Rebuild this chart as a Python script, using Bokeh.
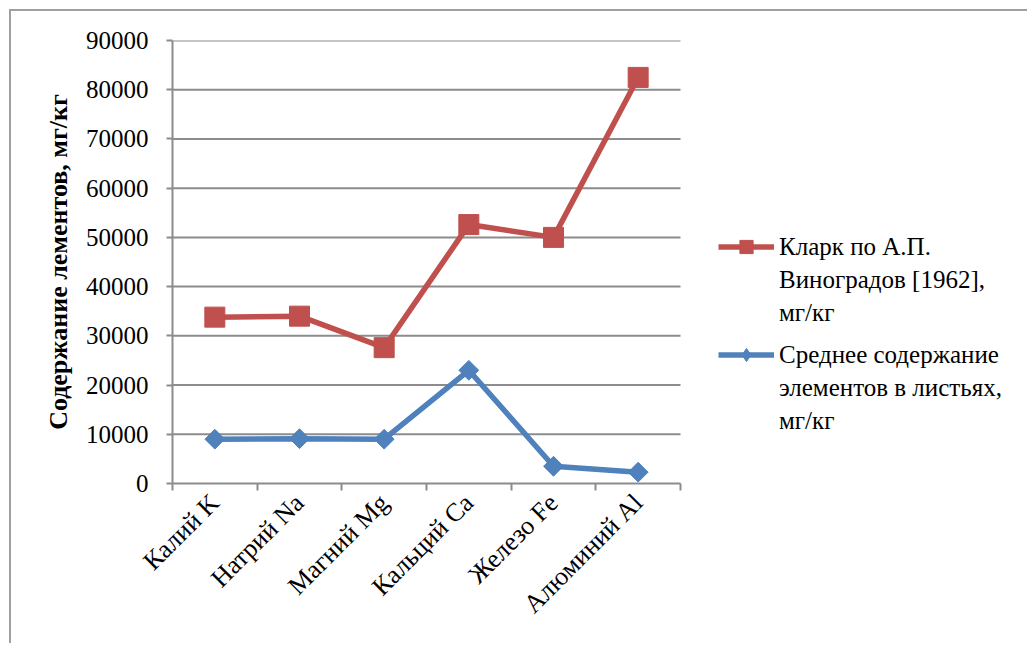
import math
from bokeh.plotting import figure
from bokeh.models import FixedTicker, Range1d, Legend, LegendItem, ColumnDataSource
from bokeh.embed import file_html
from bokeh.resources import INLINE

categories = ["Калий K", "Натрий Na", "Магний Mg", "Кальций Ca", "Железо Fe", "Алюминий Al"]
clarke = [33800, 34000, 27600, 52600, 50000, 82500]
leaves = [9000, 9100, 9000, 23000, 3500, 2300]
y_ticks = [0, 10000, 20000, 30000, 40000, 50000, 60000, 70000, 80000, 90000]
clarke_lines = ["Кларк по А.П.", "Виноградов [1962],", "мг/кг"]
leaves_lines = ["Среднее содержание", "элементов в листьях,", "мг/кг"]
y_title = "Содержание лементов, мг/кг"

RED = "#C0504D"
BLUE = "#4F81BD"
GRID = "#8c8c8c"
FONT = "Liberation Serif"

PLOT_W = 508          # pixel width of the category area
FRAME_W = 855         # frame includes room for the legend on the right
n = len(categories)
xs = [i + 0.5 for i in range(n)]
src = ColumnDataSource(dict(x=xs, clarke=clarke, leaves=leaves))

p = figure(frame_width=FRAME_W, frame_height=443, output_backend="svg", toolbar_location=None,
           x_range=Range1d(0, n * FRAME_W / PLOT_W), y_range=Range1d(0, 90000),
           min_border_left=161, min_border_top=29, min_border_bottom=160, min_border_right=0)
p.styles = {"border-left": "2px solid #a0a0a0", "border-top": "2px solid #a0a0a0",
            "margin-left": "9px", "margin-top": "9px"}
p.outline_line_color = None

# horizontal gridlines limited to the category area
gy = y_ticks[1:]
p.segment(x0=[0] * len(gy), x1=[n] * len(gy), y0=gy, y1=gy,
          line_color=GRID, line_width=2, level="underlay")
p.xgrid.visible = False
p.ygrid.visible = False

# axes
p.xaxis.bounds = (0, n)
p.xaxis.ticker = FixedTicker(ticks=xs, minor_ticks=list(range(n + 1)))
p.xaxis.major_label_overrides = {x: c for x, c in zip(xs, categories)}
p.xaxis.major_tick_out = 0
p.xaxis.major_tick_in = 0
p.xaxis.minor_tick_out = 7
p.xaxis.minor_tick_in = 0
p.xaxis.minor_tick_line_color = GRID
p.xaxis.minor_tick_line_width = 2
p.xaxis.axis_line_color = GRID
p.xaxis.axis_line_width = 2
p.xaxis.major_label_orientation = math.pi / 4
p.xaxis.major_label_text_font = FONT
p.xaxis.major_label_text_font_size = "26px"
p.xaxis.major_label_text_color = "#000000"
p.xaxis.major_label_standoff = 8

p.yaxis.ticker = FixedTicker(ticks=y_ticks)
p.yaxis.major_tick_out = 6
p.yaxis.major_tick_in = 0
p.yaxis.minor_tick_line_color = None
p.yaxis.major_tick_line_color = GRID
p.yaxis.major_tick_line_width = 2
p.yaxis.axis_line_color = GRID
p.yaxis.axis_line_width = 2
p.yaxis.major_label_text_font = FONT
p.yaxis.major_label_text_font_size = "25px"
p.yaxis.major_label_text_color = "#000000"
p.yaxis.major_label_standoff = 18
p.yaxis.axis_label = y_title
p.yaxis.axis_label_text_font = FONT
p.yaxis.axis_label_text_font_size = "26px"
p.yaxis.axis_label_text_font_style = "bold"
p.yaxis.axis_label_text_color = "#000000"
p.yaxis.axis_label_standoff = 10

# series
r1l = p.line("x", "clarke", source=src, line_color=RED, line_width=5.5)
r1m = p.scatter("x", "clarke", source=src, marker="square", size=20, fill_color=RED, line_color=RED)
r2l = p.line("x", "leaves", source=src, line_color=BLUE, line_width=5.5)
r2m = p.scatter("x", "leaves", source=src, marker="square", size=14, angle=math.pi / 4,
                fill_color=BLUE, line_color=BLUE)
# legend-only diamond glyph (no visible data point)
r2d = p.scatter(x=[float("nan")], y=[float("nan")], marker="diamond", size=14,
                fill_color=BLUE, line_color=BLUE)


def make_legend(lines, renderers, loc):
    items = [LegendItem(label=lines[0], renderers=renderers)]
    items += [LegendItem(label=t, renderers=[]) for t in lines[1:]]
    return Legend(items=items, location=loc, border_line_color=None, background_fill_alpha=0,
                  label_text_font=FONT, label_text_font_size="25px", label_text_color="#000000",
                  glyph_width=56, glyph_height=33, label_height=33, label_standoff=5,
                  spacing=0, padding=0, margin=0)


leg1 = make_legend(clarke_lines, [r1l, r1m], (546, 154))
leg2 = make_legend(leaves_lines, [r2l, r2d], (546, 46))
p.add_layout(leg1, "center")
p.add_layout(leg2, "center")

open("out.html", "w").write(file_html(p, INLINE))
